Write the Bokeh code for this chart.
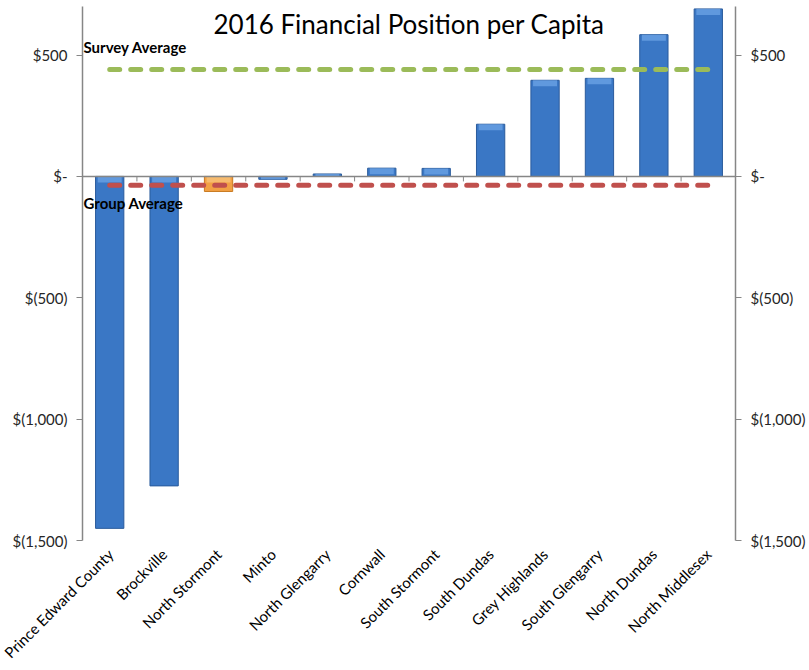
import numpy as np
from bokeh.plotting import figure
from bokeh.models import Range1d, FixedTicker, LinearAxis, Label, Span
from bokeh.embed import file_html
from bokeh.resources import INLINE

categories = ["Prince Edward County", "Brockville", "North Stormont", "Minto",
              "North Glengarry", "Cornwall", "South Stormont", "South Dundas",
              "Grey Highlands", "South Glengarry", "North Dundas", "North Middlesex"]
values = [-1450, -1275, -62, -12, 10, 34, 33, 215, 396, 404, 584, 690]
highlight = "North Stormont"
survey_average = 440
group_average = -36
y_ticks = [-1500, -1000, -500, 0, 500]
y_tick_labels = ["$(1,500)", "$(1,000)", "$(500)", "$-", "$500"]
y_min, y_max = -1500, 700
title_text = "2016 Financial Position per Capita"

FONT = "Lato"
n = len(categories)
xs = np.arange(1, n + 1)
x_start, x_end = 0.5, n + 0.5

W, H = 809, 670
B_LEFT, B_RIGHT, B_TOP, B_BOTTOM = 82, 74, 6, 130
px_per_unit = (H - B_TOP - B_BOTTOM) / (y_max - y_min)

p = figure(width=W, height=H, output_backend="svg", toolbar_location=None,
           x_range=Range1d(x_start, x_end), y_range=Range1d(y_min, y_max),
           min_border_left=B_LEFT, min_border_right=B_RIGHT, min_border_top=B_TOP,
           min_border_bottom=B_BOTTOM)
p.xgrid.visible = False
p.ygrid.visible = False
p.outline_line_color = None
p.background_fill_color = "white"
p.border_fill_color = "white"

# bars
vals = np.array(values, dtype=float)
is_hi = np.array([c == highlight for c in categories])
fills = np.where(is_hi, "#f2a044", "#3a77c5").tolist()
edges = np.where(is_hi, "#c8791f", "#2a5b9c").tolist()
tops_light = np.where(is_hi, "#f8c47c", "#6ea4e6").tolist()
p.vbar(x=xs, top=vals, bottom=0, width=0.52, fill_color=fills,
       line_color=edges, line_width=1)
# bevel highlight at the top of each bar
bevel = 6 / px_per_unit
upper = np.maximum(vals, 0)
lower = upper - np.minimum(bevel, np.abs(vals))
p.vbar(x=xs, top=upper, bottom=lower, width=0.44, fill_color=tops_light,
       line_color=None, fill_alpha=0.75)

# zero line and category boundary ticks
p.add_layout(Span(location=0, dimension="width", line_color="#868686", line_width=1.5))
bounds = np.arange(n + 1) + 0.5
tick_len = 5 / px_per_unit
p.segment(x0=bounds, y0=0, x1=bounds, y1=-tick_len, line_color="#868686", line_width=1)

# average lines
p.line(x=[xs[0], xs[-1]], y=[survey_average, survey_average], line_color="#9bbb59",
       line_width=5, line_dash="10 11", line_cap="round")
p.line(x=[xs[0], xs[-1]], y=[group_average, group_average], line_color="#c0504d",
       line_width=5, line_dash="10 11", line_cap="round")

p.add_layout(Label(x=x_start, y=survey_average, x_offset=1, y_offset=23,
                   text="Survey Average", text_font=FONT, text_font_style="bold",
                   text_font_size="15px", text_baseline="middle", text_color="black"))
p.add_layout(Label(x=x_start, y=group_average, x_offset=1, y_offset=-18,
                   text="Group Average", text_font=FONT, text_font_style="bold",
                   text_font_size="15px", text_baseline="middle", text_color="black"))

p.add_layout(Label(x=(x_start + x_end) / 2, y=y_max, y_offset=-1, text=title_text,
                   text_font=FONT, text_font_size="26px", text_align="center",
                   text_baseline="top", text_color="black"))

# x axis (category labels)
xa = p.xaxis[0]
xa.ticker = FixedTicker(ticks=list(xs))
xa.major_label_overrides = {int(x): c for x, c in zip(xs, categories)}
xa.major_label_orientation = np.pi / 4
xa.axis_line_color = None
xa.major_tick_line_color = None
xa.minor_tick_line_color = None
xa.major_label_text_font = FONT
xa.major_label_text_font_size = "15px"
xa.major_label_text_color = "black"
xa.major_label_standoff = 5

def style_y(ax):
    ax.ticker = FixedTicker(ticks=y_ticks)
    ax.major_label_overrides = {t: l for t, l in zip(y_ticks, y_tick_labels)}
    ax.axis_line_color = "#868686"
    ax.axis_line_width = 1.5
    ax.major_tick_line_color = "#868686"
    ax.major_tick_out = 6
    ax.major_tick_in = 0
    ax.minor_tick_line_color = None
    ax.major_label_text_font = FONT
    ax.major_label_text_font_size = "15px"
    ax.major_label_text_color = "#262626"
    ax.major_label_standoff = 9

style_y(p.yaxis[0])
right = LinearAxis()
style_y(right)
p.add_layout(right, "right")

open("out.html", "w").write(file_html(p, INLINE))
